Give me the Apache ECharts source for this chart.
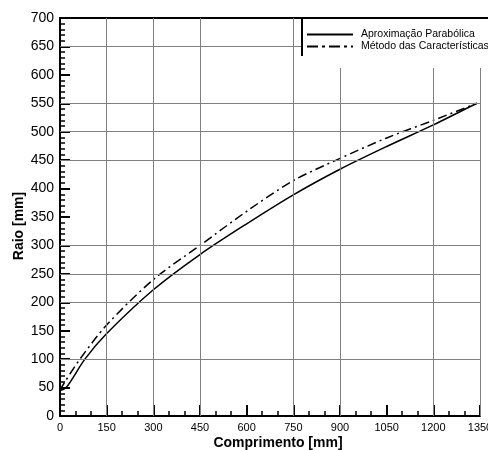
<!DOCTYPE html>
<html>
<head>
<meta charset="utf-8">
<script src="https://cdn.jsdelivr.net/npm/echarts@6/dist/echarts.min.js"></script>
<style>
  html, body { margin: 0; padding: 0; background: #fff; }
  #chart { width: 488px; height: 450px; }
</style>
</head>
<body>
<div id="chart"></div>
<script>
  // comprimento [mm] -> raio [mm]
  const parabolicX = [0, 20, 80, 150, 300, 450, 600, 750, 900, 1050, 1200, 1340];
  const parabolicY = [45, 50, 100, 145, 222, 284, 338, 389, 434, 474, 512, 550];
  const characteristicsX = [0, 10, 64, 150, 300, 450, 600, 750, 900, 1050, 1200, 1340];
  const characteristicsY = [45, 55, 100, 160, 240, 300, 360, 414, 453, 489, 520, 550];

  const seriesNames = ['Aproximação Parabólica', 'Método das Características'];

  // grid lines that show up in the original figure
  const xGridAt = [150, 300, 450, 750, 900, 1200, 1350];
  const yGridAt = [100, 200, 250, 300, 450, 500, 550, 650];

  const pairs = (xs, ys) => xs.map((x, i) => [x, ys[i]]);

  // legend samples: solid bar and dash-dot bar
  const solidIcon = 'path://M0,0h46v2h-46z';
  const dashDotIcon = 'path://M0,0h11v2h-11zM15,0h3v2h-3zM22,0h11v2h-11zM37,0h3v2h-3zM44,0h2v2h-2z';

  const chart = echarts.init(document.getElementById('chart'));

  const option = {
    animation: false,
    textStyle: { fontFamily: 'Liberation Sans, Arial, sans-serif', color: '#000' },
    grid: { left: 60, top: 18, width: 420, height: 398, outerBoundsMode: 'none', containLabel: false },
    legend: {
      z: 10,
      orient: 'vertical',
      left: 302,
      top: 18,
      padding: [11, 0, 16, 5],
      backgroundColor: '#fff',
      itemWidth: 46,
      itemHeight: 10,
      itemGap: 1,
      itemStyle: { color: '#000', borderWidth: 0 },
      data: [
        { name: seriesNames[0], icon: solidIcon },
        { name: seriesNames[1], icon: dashDotIcon },
      ],
      textStyle: { fontSize: 10.5, color: '#000', padding: [0, 0, 0, 3] },
    },
    graphic: [
      {
        type: 'polyline',
        z: 100,
        shape: { points: [[302, 56], [302, 18], [488, 18]] },
        style: { stroke: '#000', lineWidth: 2, fill: null },
      },
    ],
    xAxis: [
      {
        type: 'value',
        min: 0,
        max: 1350,
        interval: 150,
        name: 'Comprimento [mm]',
        nameLocation: 'middle',
        nameGap: 20,
        nameMoveOverlap: false,
        nameTextStyle: { fontSize: 14, fontWeight: 'bold', padding: [0, 0, 0, 16] },
        axisLine: { lineStyle: { color: '#000', width: 2 } },
        axisTick: { inside: true, length: 11, lineStyle: { color: '#000', width: 2 } },
        minorTick: { show: true, splitNumber: 3, length: 5, lineStyle: { color: '#000', width: 1.5 } },
        axisLabel: { fontSize: 11, color: '#000', margin: 6, showMaxLabel: true, formatter: (v) => String(v) },
        splitLine: { show: false },
      },
      {
        type: 'value',
        position: 'top',
        min: 0,
        max: 1350,
        axisLine: { show: true, lineStyle: { color: '#000', width: 2 } },
        axisTick: { show: false },
        axisLabel: { show: false },
        splitLine: { show: false },
      },
    ],
    yAxis: {
      type: 'value',
      min: 0,
      max: 700,
      interval: 50,
      name: 'Raio [mm]',
      nameLocation: 'middle',
      nameGap: 34,
      nameMoveOverlap: false,
      nameTextStyle: { fontSize: 14, fontWeight: 'bold', padding: [0, 18, 0, 0] },
      axisLine: { show: true, lineStyle: { color: '#000', width: 2 } },
      axisTick: { inside: true, length: 10, lineStyle: { color: '#000', width: 2 } },
      minorTick: { show: true, splitNumber: 5, length: 5, lineStyle: { color: '#000', width: 1.5 } },
      axisLabel: { fontSize: 14, color: '#000', margin: 6 },
      splitLine: { show: false },
    },
    series: [
      {
        name: 'grid',
        type: 'line',
        data: [],
        z: 1,
        silent: true,
        markLine: {
          silent: true,
          symbol: 'none',
          animation: false,
          label: { show: false },
          lineStyle: { color: '#808080', width: 1, type: 'solid' },
          emphasis: { disabled: true },
          data: [
            ...xGridAt.map((v) => ({ xAxis: v })),
            ...yGridAt.map((v) => ({ yAxis: v })),
          ],
        },
      },
      {
        name: seriesNames[0],
        type: 'line',
        z: 3,
        smooth: 0.3,
        showSymbol: false,
        symbol: 'none',
        lineStyle: { color: '#000', width: 1.5, type: 'solid' },
        itemStyle: { color: '#000' },
        data: pairs(parabolicX, parabolicY),
      },
      {
        name: seriesNames[1],
        type: 'line',
        z: 3,
        smooth: 0.3,
        showSymbol: false,
        symbol: 'none',
        lineStyle: { color: '#000', width: 1.5, type: [9, 4, 2, 4] },
        itemStyle: { color: '#000' },
        data: pairs(characteristicsX, characteristicsY),
      },
    ],
  };

  option && chart.setOption(option);
</script>
</body>
</html>
